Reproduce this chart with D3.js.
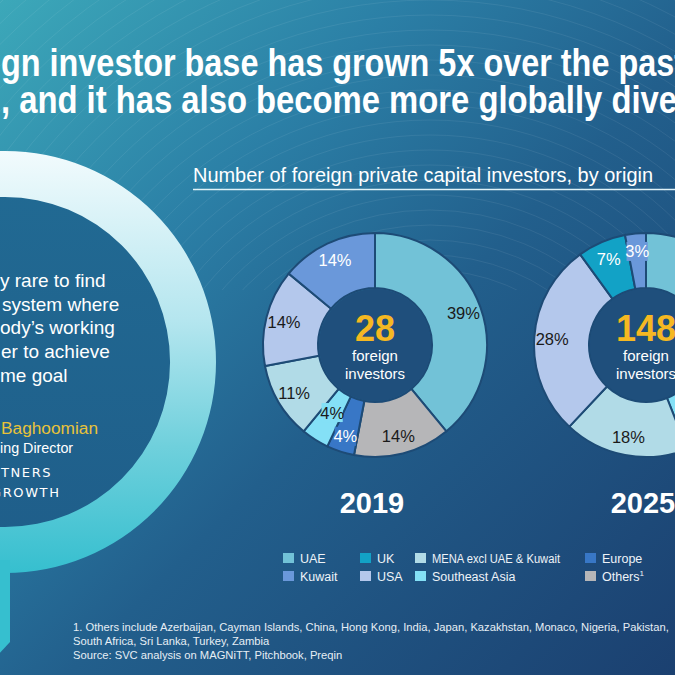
<!DOCTYPE html>
<html><head><meta charset="utf-8">
<script src="https://cdn.jsdelivr.net/npm/d3@7"></script>
<style>html,body{margin:0;padding:0;background:#1f4e7c;overflow:hidden}svg{display:block}</style>
</head><body>
<script>
// ---- data ----
const categories = ["UAE","Others","Europe","Southeast Asia","MENA excl UAE & Kuwait","USA","UK","Kuwait"];
const values2019 = [39,14,4,4,11,14,0,14];
const values2025 = [24,10,5,5,18,28,7,3];
const years = ["2019","2025"];
const totals = ["28","148"];
const legendRows = [["UAE","UK","MENA excl UAE & Kuwait","Europe"],["Kuwait","USA","Southeast Asia","Others"]];
const titleLines = ["gn investor base has grown 5x over the past", ", and it has also become more globally dive"];
const quoteLines = ["y rare to find","system where","ody\u2019s working","er to achieve","me goal"];
const footLines = ["1. Others include Azerbaijan, Cayman Islands, China, Hong Kong, India, Japan, Kazakhstan, Monaco, Nigeria, Pakistan,",
  "South Africa, Sri Lanka, Turkey, Zambia","Source: SVC analysis on MAGNiTT, Pitchbook, Preqin"];

// ---- styles ----
const colors = {"UAE":"#72c2d7","Others":"#b6b6b8","Europe":"#3877c6","Southeast Asia":"#84e0f6",
  "MENA excl UAE & Kuwait":"#b1dbe7","USA":"#b4c8ec","UK":"#12a2c6","Kuwait":"#6a98da"};
const whiteLabel = new Set(["Europe","UK","Kuwait"]);
const W = 675, H = 675;
const FONT = "Liberation Sans, Arial, sans-serif";
const svg = d3.select("body").append("svg").attr("width",W).attr("height",H);
const defs = svg.append("defs");
const bg = defs.append("linearGradient").attr("id","bg").attr("x1",0).attr("y1",0).attr("x2",1).attr("y2",1);
[[0,"#3ca8b9"],[0.3,"#2b7fa6"],[0.55,"#225f8c"],[1,"#1b4070"]].forEach(s=>bg.append("stop").attr("offset",s[0]).attr("stop-color",s[1]));
const ringG = defs.append("linearGradient").attr("id","ring").attr("x1",0).attr("y1",0).attr("x2",0).attr("y2",1);
[[0,"#f2fbfd"],[0.4,"#b5e6ef"],[0.7,"#6fd0dc"],[1,"#36bfcf"]].forEach(s=>ringG.append("stop").attr("offset",s[0]).attr("stop-color",s[1]));
const discG = defs.append("linearGradient").attr("id","disc").attr("x1",0).attr("y1",0).attr("x2",0).attr("y2",1);
[[0,"#216a93"],[1,"#1f5e8a"]].forEach(s=>discG.append("stop").attr("offset",s[0]).attr("stop-color",s[1]));
defs.append("clipPath").attr("id","topclip").append("rect").attr("width",W).attr("height",290);

svg.append("rect").attr("width",W).attr("height",H).attr("fill","url(#bg)");
// faint contour lines
const contour = svg.append("g").attr("clip-path","url(#topclip)").attr("fill","none").attr("stroke","#ffffff").attr("stroke-opacity",0.07).attr("stroke-width",1);
d3.range(200,700,15).forEach(r=>contour.append("circle").attr("cx",430).attr("cy",470).attr("r",r));

// left ring with tail
const ring = svg.append("g");
ring.append("circle").attr("cx",5).attr("cy",362).attr("r",188).attr("fill","url(#disc)");
ring.append("path").attr("fill","url(#ring)")
  .attr("d", d3.arc()({innerRadius:165,outerRadius:211,startAngle:0,endAngle:2*Math.PI}))
  .attr("transform","translate(5,362)");
ring.append("path").attr("fill","#36bfcf").attr("d","M-5,560 L10,560 L10,642 L-5,658 Z");

// title
const title = svg.append("g").attr("font-family",FONT).attr("font-weight","bold").attr("fill","#ffffff").attr("font-size",38);
titleLines.forEach((t,i)=>title.append("text").attr("x",1).attr("y",76+i*37).attr("textLength",i===0?684:676).attr("lengthAdjust","spacingAndGlyphs").text(t));

// quote
const q = svg.append("g").attr("font-family",FONT).attr("fill","#ffffff").attr("font-size",19);
const qx = [0,2,0,1,0];
quoteLines.forEach((t,i)=>q.append("text").attr("x",qx[i]).attr("y",287+i*23.7).text(t));
q.append("text").attr("x",1).attr("y",434).attr("fill","#e8c23a").attr("font-size",17.3).text("Baghoomian");
q.append("text").attr("x",0).attr("y",453).attr("font-size",14.3).text("ing Director");
q.append("text").attr("x",1).attr("y",477).attr("font-size",13).attr("letter-spacing",1.6).attr("font-family","DejaVu Sans, sans-serif").text("TNERS");
q.append("text").attr("x",-9).attr("y",497).attr("font-size",13).attr("letter-spacing",1.6).attr("font-family","DejaVu Sans, sans-serif").text("GROWTH");

// subtitle
svg.append("text").attr("x",193).attr("y",182).attr("font-family",FONT).attr("font-size",19.5).attr("fill","#ffffff")
  .attr("textLength",460).attr("lengthAdjust","spacingAndGlyphs").text("Number of foreign private capital investors, by origin");
svg.append("line").attr("x1",193).attr("x2",675).attr("y1",189.5).attr("y2",189.5).attr("stroke","#dff2f8").attr("stroke-width",1.5);

// donuts
const centers = [375,646];
const cy = 345, rOut = 112, rIn = 57;
const labelR = {default:94, "2019|Southeast Asia":80, "2019|Europe":96};
const pie = d3.pie().sort(null).value(d=>d.value);
const arc = d3.arc().innerRadius(rIn).outerRadius(rOut);
[values2019, values2025].forEach((vals,k)=>{
  const data = categories.map((c,i)=>({cat:c,value:vals[i]})).filter(d=>d.value>0);
  const g = svg.append("g").attr("transform",`translate(${centers[k]},${cy})`);
  const arcs = pie(data);
  g.selectAll("path").data(arcs).join("path").attr("d",arc).attr("fill",d=>colors[d.data.cat])
    .attr("stroke","#1d4b76").attr("stroke-width",2);
  g.append("circle").attr("r",rIn-1).attr("fill","#1f4f7c");
  arcs.forEach(d=>{
    const key = years[k]+"|"+d.data.cat;
    const r = labelR[key] || labelR.default;
    const [lx,ly] = d3.arc().innerRadius(r).outerRadius(r).centroid(d);
    const txt = d.data.value+"%";
    if (d.data.value<=4){
      const w = txt.length*8.6+4;
      g.append("rect").attr("x",lx-w/2).attr("y",ly-9.5).attr("width",w).attr("height",19).attr("fill",colors[d.data.cat]);
    }
    g.append("text").attr("x",lx).attr("y",ly+6).attr("text-anchor","middle")
      .attr("font-family",FONT).attr("font-size",16.5)
      .attr("fill",whiteLabel.has(d.data.cat)?"#ffffff":"#1a1a1a").text(txt);
  });
  g.append("text").attr("y",-4).attr("text-anchor","middle").attr("font-family",FONT)
    .attr("font-weight","bold").attr("font-size",36).attr("fill","#f5b822").text(totals[k]);
  g.append("text").attr("y",16).attr("text-anchor","middle").attr("font-family",FONT)
    .attr("font-size",15).attr("fill","#ffffff").text("foreign");
  g.append("text").attr("y",34).attr("text-anchor","middle").attr("font-family",FONT)
    .attr("font-size",15).attr("fill","#ffffff").text("investors");
  svg.append("text").attr("x",centers[k]-3).attr("y",513).attr("text-anchor","middle").attr("font-family",FONT)
    .attr("font-weight","bold").attr("font-size",29).attr("fill","#ffffff").text(years[k]);
});

// legend
const colX = [283,360,415,585];
const leg = svg.append("g").attr("font-family",FONT).attr("font-size",12.5).attr("fill","#eef3f8");
legendRows.forEach((row,ri)=>row.forEach((c,ci)=>{
  const y = 563 + ri*18;
  leg.append("rect").attr("x",colX[ci]).attr("y",y-10).attr("width",11).attr("height",10).attr("fill",colors[c]);
  const t = leg.append("text").attr("x",colX[ci]+17).attr("y",y).text(c);
  if (c.length>20) t.attr("textLength",128).attr("lengthAdjust","spacingAndGlyphs");
  if (c==="Others") t.append("tspan").attr("font-size",8).attr("dy",-5).text("1");
}));

// footnote
const foot = svg.append("g").attr("font-family",FONT).attr("font-size",11.2).attr("fill","#e6eef5");
footLines.forEach((t,i)=>foot.append("text").attr("x",73).attr("y",631+i*14).text(t));
</script>
</body></html>
